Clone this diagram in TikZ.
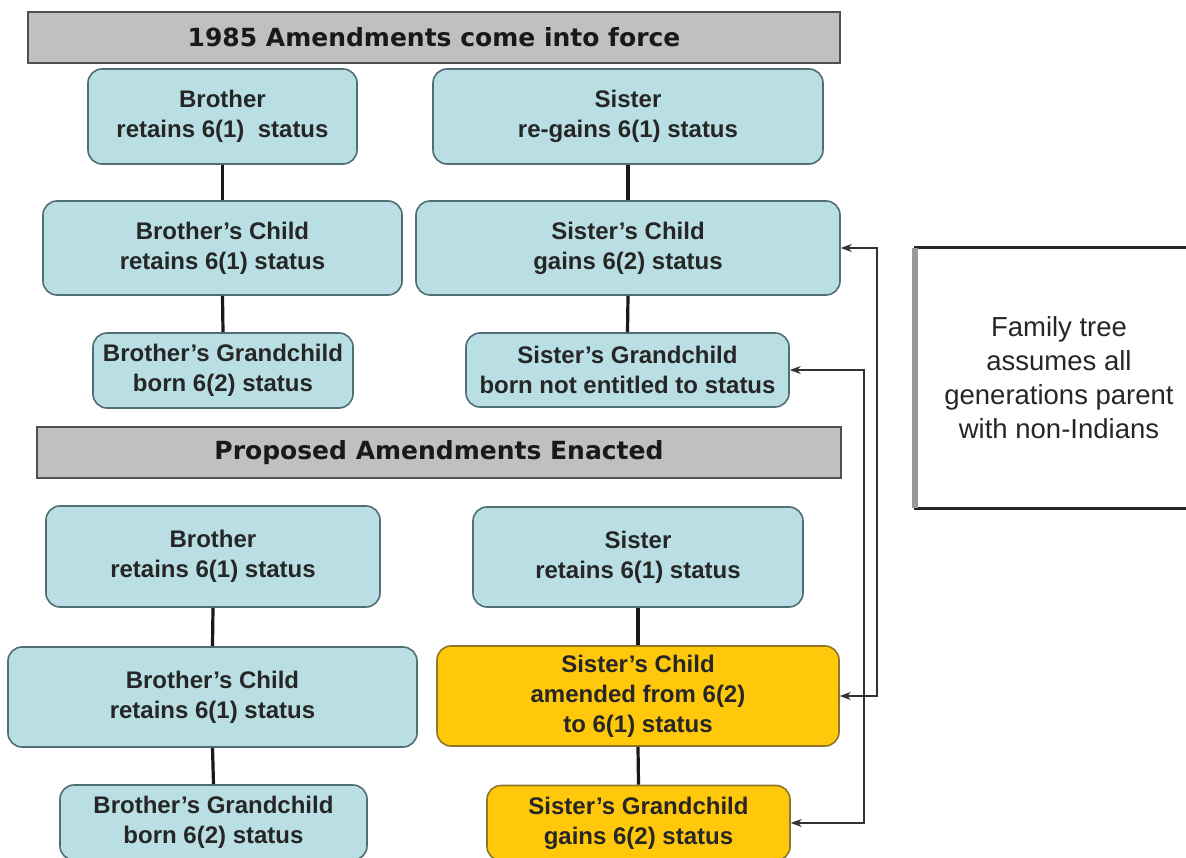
\documentclass[tikz,border=0pt]{standalone}
\usepackage{fontspec}
\setmainfont{Liberation Sans}
\newfontfamily\barfont{DejaVu Sans}
\usetikzlibrary{arrows.meta}
\definecolor{boxblue}{RGB}{185,223,228}
\definecolor{boxedge}{RGB}{80,110,115}
\definecolor{boxgold}{RGB}{255,200,10}
\definecolor{goldedge}{RGB}{140,118,40}
\definecolor{bargray}{RGB}{192,192,192}
\definecolor{baredge}{RGB}{80,80,80}

\begin{document}
\begin{tikzpicture}[x=1pt,y=-1pt,
	person/.style={draw=boxedge,fill=boxblue,line width=1.6pt,rounded corners=14pt,
		inner sep=0pt,align=center,text=black!85,
		font=\fontsize{24}{30}\selectfont\bfseries},
	changed/.style={person,draw=goldedge,fill=boxgold},
	headbar/.style={draw=baredge,fill=bargray,line width=1.8pt,inner sep=0pt,
		font=\barfont\fontsize{25}{30}\selectfont\bfseries,text=black!90},
	note/.style={draw=black!85,fill=white,line width=3pt,inner sep=0pt,align=center,
		font=\fontsize{27.5}{34}\selectfont,text=black!85},
	link/.style={line width=3.2pt,black!90},
	jump/.style={line width=1.4pt,black!80,{Stealth[length=11pt,width=8pt]}-{Stealth[length=11pt,width=8pt]}}]
	\fill[white] (0,0) rectangle (1186,858);
	\clip (0,0) rectangle (1186,858);

	\node[headbar,minimum width=812pt,minimum height=51pt] (bar1) at (434,37.5) {1985 Amendments come into force};
	\node[person,minimum width=269pt,minimum height=95pt] (bro1) at (222.5,116.5) {Brother\\retains 6(1)~~status};
	\node[person,minimum width=390pt,minimum height=95pt] (sis1) at (628,116.5) {Sister\\re-gains 6(1) status};
	\node[person,minimum width=359pt,minimum height=94pt] (brochild1) at (222.5,248) {Brother’s Child\\retains 6(1) status};
	\node[person,minimum width=424pt,minimum height=94pt] (sischild1) at (628,248) {Sister’s Child\\gains 6(2) status};
	\node[person,minimum width=260pt,minimum height=75pt] (brogrand1) at (223,370.5) {Brother’s Grandchild\\born 6(2) status};
	\node[person,minimum width=323pt,minimum height=74pt] (sisgrand1) at (627.5,370) {Sister’s Grandchild\\born not entitled to status};

	\node[headbar,minimum width=804pt,minimum height=51pt] (bar2) at (439,452.5) {Proposed Amendments Enacted};
	\node[person,minimum width=334pt,minimum height=101pt] (bro2) at (213,556.5) {Brother\\retains 6(1) status};
	\node[person,minimum width=330pt,minimum height=100pt] (sis2) at (638,557) {Sister\\retains 6(1) status};
	\node[person,minimum width=409pt,minimum height=100pt] (brochild2) at (212.5,697) {Brother’s Child\\retains 6(1) status};
	\node[changed,minimum width=402pt,minimum height=100pt] (sischild2) at (638,696) {Sister’s Child\\amended from 6(2)\\to 6(1) status};
	\node[person,minimum width=307pt,minimum height=75pt] (brogrand2) at (213.5,822.5) {Brother’s Grandchild\\born 6(2) status};
	\node[changed,minimum width=303pt,minimum height=75pt] (sisgrand2) at (638.5,823) {Sister’s Grandchild\\gains 6(2) status};

	\node[note,minimum width=288pt,minimum height=260pt] (assume) at (1059,378) {Family tree\\assumes all\\generations parent\\with non-Indians};
	\draw[line width=6pt,black!40] ([xshift=1.5pt,yshift=-1.5pt]assume.north west) -- ([xshift=1.5pt,yshift=1.5pt]assume.south west);

	\draw[link] (bro1.south) -- (brochild1.north);
	\draw[link] (brochild1.south) -- (brogrand1.north);
	\draw[link] (sis1.south) -- (sischild1.north);
	\draw[link] (sischild1.south) -- (sisgrand1.north);
	\draw[link] (bro2.south) -- (brochild2.north);
	\draw[link] (brochild2.south) -- (brogrand2.north);
	\draw[link] (sis2.south) -- (sischild2.north);
	\draw[link] (sischild2.south) -- (sisgrand2.north);

	\draw[jump] (sischild1.east) -- ++(36,0) |- (sischild2.east);
	\draw[jump] (sisgrand1.east) -- ++(74,0) |- (sisgrand2.east);
\end{tikzpicture}
\end{document}
